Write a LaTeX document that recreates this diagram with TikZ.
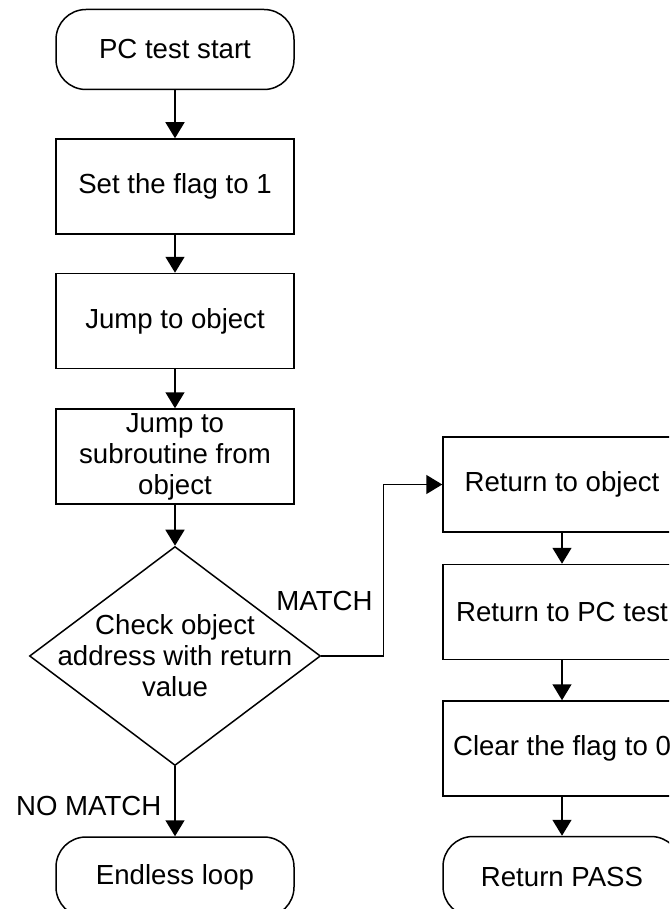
\documentclass[tikz,border=0pt]{standalone}
\usepackage{fontspec}
\setmainfont{Liberation Sans}
\usetikzlibrary{
    arrows.meta,
    positioning,
    shapes.geometric,
    calc
}
\tikzset{
    flowtip /.tip = {Triangle[
      length=8pt,
      width=9.5pt
    ]}
  }
\tikzset{
    process/.style = {rectangle, draw, align=center,
      minimum width=119pt, minimum height=47.5pt, inner sep=2pt},
    terminal/.style = {rectangle, draw, rounded corners=15pt,
      minimum width=119pt, minimum height=40pt},
    decision/.style = {diamond, draw, inner sep=0pt,
      minimum width=145.5pt, minimum height=109.5pt},
    lbl/.style = {inner sep=0pt}
  }

\begin{document}
\begin{tikzpicture}[>=flowtip, line width=0.75pt,
    font=\fontsize{13.8pt}{15.5pt}\selectfont]

\useasboundingbox (0,0) rectangle (334.5pt,-454.5pt);
\clip (0,0) rectangle (334.5pt,-454.5pt);

\node[terminal] at (87.5pt,-24.75pt) (start) {PC test start};

\node[process,below=24pt of start]
  (setflag) {Set the flag to 1}
  edge[<-] (start);

\node[process,below=19pt of setflag]
  (jumpobj) {Jump to object}
  edge[<-] (setflag);

\node[process,below=19.5pt of jumpobj]
  (jumpsub) {Jump to\\subroutine from\\object}
  edge[<-] (jumpobj);

\node[decision,below=20.5pt of jumpsub,
      label={[lbl,align=center]center:Check object\\address with return\\value}]
  (check) {}
  edge[<-] (jumpsub);

\node[terminal,below=35pt of check]
  (endless) {Endless loop};

\draw[->] (check) -- (endless)
  node[lbl,left=6.5pt,pos=0.57] (nomatch) {NO MATCH};



\node[process] at (281pt,-242.25pt) (retobj) {Return to object};

\draw[->] (check.east) -- ++(31pt,0) |- (retobj.west);

\node[lbl,anchor=east] at ($(check.east)+(26pt,27.75pt)$)
  (match) {MATCH};

\node[process,below=15.5pt of retobj]
  (retpc) {Return to PC test}
  edge[<-] (retobj);

\node[process,below=20pt of retpc]
  (clearflag) {Clear the flag to 0}
  edge[<-] (retpc);

\node[terminal,below=19.5pt of clearflag]
  (retpass) {Return PASS}
  edge[<-] (clearflag);

\end{tikzpicture}
\end{document}
